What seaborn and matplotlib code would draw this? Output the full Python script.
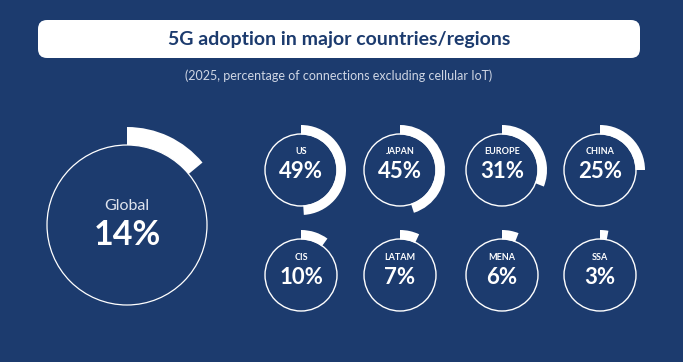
import matplotlib.pyplot as plt
import seaborn as sns
from matplotlib.patches import Wedge, Circle, FancyBboxPatch

# Daten
regions = ["US", "JAPAN", "EUROPE", "CHINA", "CIS", "LATAM", "MENA", "SSA"]
shares = [49, 45, 31, 25, 10, 7, 6, 3]
global_share = 14

title = "5G adoption in major countries/regions"
subtitle = "(2025, percentage of connections excluding cellular IoT)"

# Farben
bg = "#1c3b6e"
white = "#ffffff"

sns.set_theme(style="white")
plt.rcParams['font.family'] = ['Lato', 'DejaVu Sans']

W, H = 683, 362
fig = plt.figure(figsize=(W / 100, H / 100), dpi=100, facecolor=bg)
ax = fig.add_axes([0, 0, 1, 1])
ax.set_facecolor(bg)
ax.set_xlim(0, W)
ax.set_ylim(0, H)
ax.set_aspect("equal")
ax.axis("off")


def yy(y):
    # Pixel-y von oben -> Datenkoordinate
    return H - y


def gauge(cx, cy, r, r_out, r_in, value, lw):
    ax.add_patch(Circle((cx, yy(cy)), r, fill=False, edgecolor=white, lw=lw))
    ax.add_patch(Wedge((cx, yy(cy)), r_out, 90 - 360 * value / 100, 90,
                       width=r_out - r_in, facecolor=white, edgecolor="none"))


# Titelbox
ax.add_patch(FancyBboxPatch((38, yy(58)), 602, 38,
                            boxstyle="round,pad=0,rounding_size=9",
                            facecolor=white, edgecolor="none"))
ax.text(339, yy(40), title, ha="center", va="center", fontsize=14,
        fontweight="bold", color=bg)
ax.text(339, yy(76), subtitle, ha="center", va="center", fontsize=9,
        color="#cfd6e4")

# Global
gauge(127, 225, 80, 98, 80, global_share, 0.9)
ax.text(127, yy(206), "Global", ha="center", va="center", fontsize=11.5,
        color="#dfe4ee")
ax.text(127, yy(235), f"{global_share}%", ha="center", va="center",
        fontsize=24.5, fontweight="bold", color=white)

# Regionen
xs = [301, 400, 502, 600]
ys = [170, 275]
for i, (name, val) in enumerate(zip(regions, shares)):
    cx = xs[i % 4]
    cy = ys[i // 4]
    gauge(cx, cy, 36, 45, 35.5, val, 1.0)
    ax.text(cx, yy(cy - 18), name, ha="center", va="center", fontsize=6.5,
            fontweight="bold", color=white)
    ax.text(cx, yy(cy + 2), f"{val}%", ha="center", va="center",
            fontsize=16, fontweight="bold", color=white)

plt.savefig("out.png", dpi=100, facecolor=bg)
